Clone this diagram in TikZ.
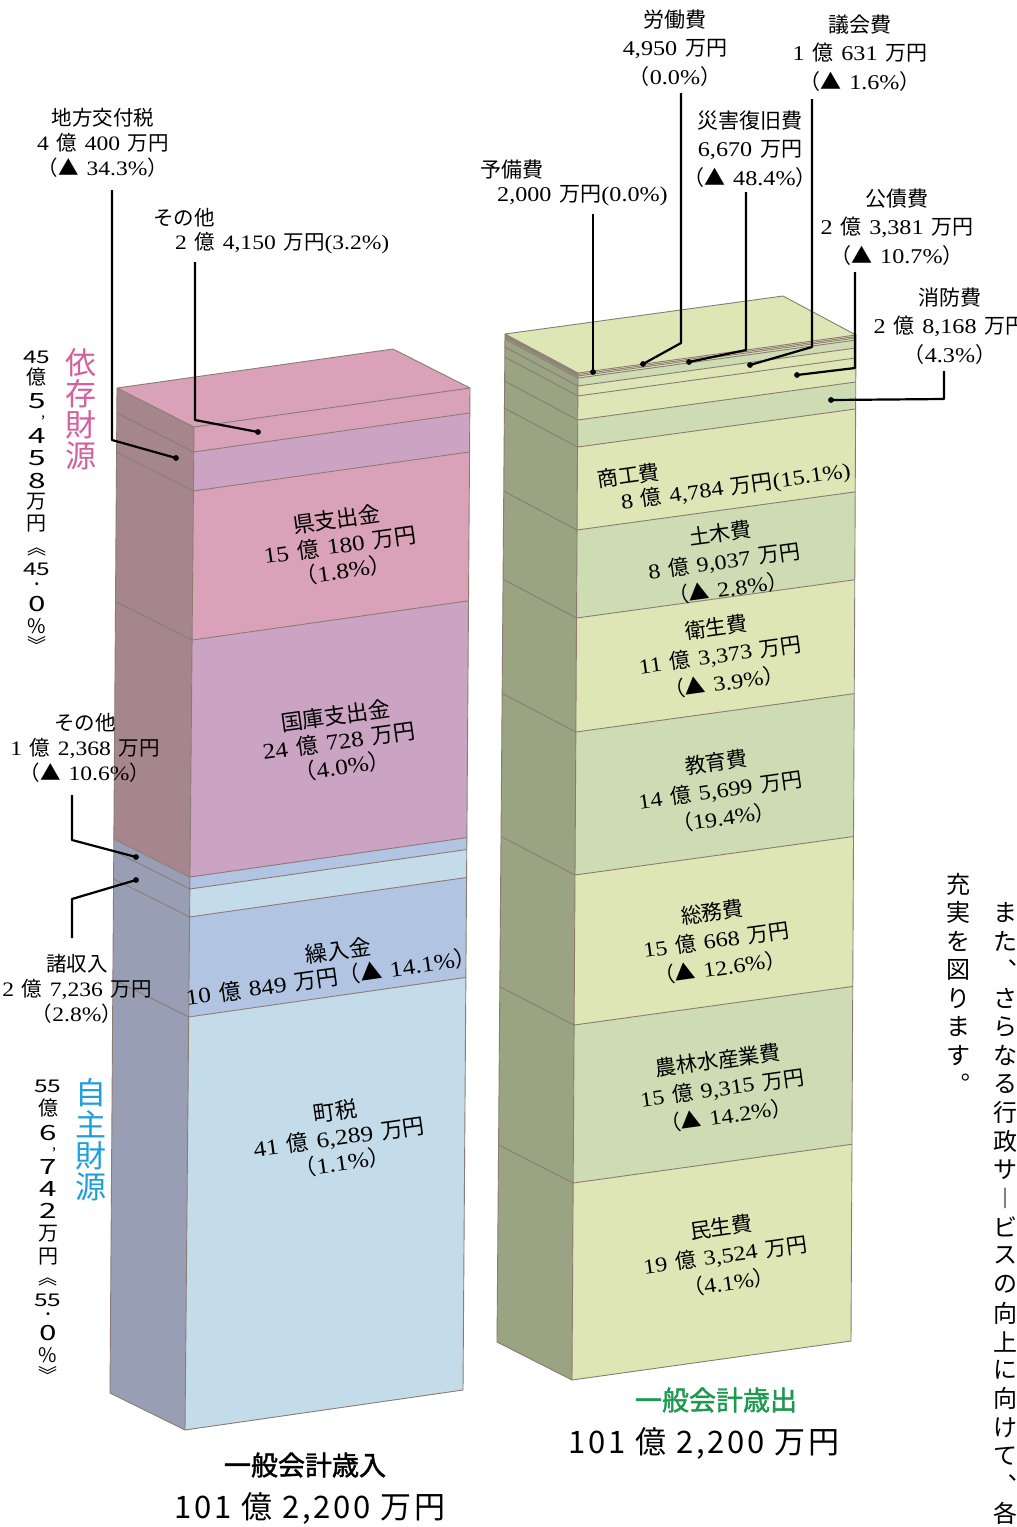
\documentclass[tikz,border=0pt]{standalone}
\usepackage{fontspec}
\setmainfont[FakeStretch=1.15,WordSpace=1.3]{Liberation Serif}
\newfontfamily\jpfont{Noto Sans CJK JP}
\newfontfamily\jpttlfont[FakeBold=1.6]{Noto Sans CJK JP}
\newfontfamily\jpwide[LetterSpace=9]{Noto Sans CJK JP}
\usetikzlibrary{calc}
% automatic switch: CJK characters in Noto Sans CJK JP, Latin in Liberation Serif
\chardef\cjkcls=37
\newcount\cjkcnt
\def\setclassrange#1#2#3{\cjkcnt=#1\relax\loop\XeTeXcharclass\cjkcnt=#3\relax\advance\cjkcnt by 1\relax\ifnum\cjkcnt<#2\relax\repeat}
\setclassrange{"21}{"7F}{0}
\setclassrange{"25A0}{"2600}{\cjkcls}
\setclassrange{"3000}{"A000}{\cjkcls}
\setclassrange{"FE10}{"FE50}{\cjkcls}
\setclassrange{"FF00}{"FFF0}{\cjkcls}
\XeTeXinterchartoks 0 \cjkcls = {\jpfont}
\XeTeXinterchartoks 4095 \cjkcls = {\jpfont}
\XeTeXinterchartoks \cjkcls 0 = {\normalfont}
\XeTeXinterchartoks \cjkcls 4095 = {\normalfont}
\XeTeXinterchartokenstate=1
\newcommand\jpplain{\XeTeXinterchartokenstate=0\relax\jpfont}
\newcommand\jpwplain{\XeTeXinterchartokenstate=0\relax\jpwide}
\newcommand\jpttl{\XeTeXinterchartokenstate=0\relax\jpttlfont}

\definecolor{edgec}{HTML}{8C7B73}
\definecolor{pinkA}{HTML}{D9A2B9}
\definecolor{pinkB}{HTML}{CBA4C3}
\definecolor{sideP}{HTML}{A6868D}
\definecolor{blueA}{HTML}{B1C5E2}
\definecolor{blueB}{HTML}{C4DCE9}
\definecolor{sideB}{HTML}{989FB5}
\definecolor{yelA}{HTML}{DFE6B5}
\definecolor{grnA}{HTML}{CDDCB3}
\definecolor{sideG}{HTML}{9AA382}
\definecolor{pinkT}{HTML}{D4609C}
\definecolor{blueT}{HTML}{1E9FDB}
\definecolor{greenT}{HTML}{1E9A50}

\newcommand\colband[5]{%
  \fill[#4] ($(#1TL)!#2!(#1BL)$) -- ($(#1TR)!#2!(#1BR)$) -- ($(#1TR)!#3!(#1BR)$) -- ($(#1TL)!#3!(#1BL)$) -- cycle;
  \fill[#5] ($(#1KT)!#2!(#1KB)$) -- ($(#1TL)!#2!(#1BL)$) -- ($(#1TL)!#3!(#1BL)$) -- ($(#1KT)!#3!(#1KB)$) -- cycle;}
\newcommand\colline[2]{\draw[edge] ($(#1KT)!#2!(#1KB)$) -- ($(#1TL)!#2!(#1BL)$) -- ($(#1TR)!#2!(#1BR)$);}

\tikzset{
  edge/.style={draw=edgec, line width=0.9pt, line join=round},
  leader/.style={draw=black, line width=2.2pt, line join=round},
  labL/.style={align=center, inner sep=0pt, font=\fontsize{20.5}{25}\selectfont},
  labR/.style={align=center, inner sep=0pt, font=\fontsize{21}{28.5}\selectfont},
  inL/.style={align=center, inner sep=0pt, rotate=8, font=\fontsize{22}{25.5}\selectfont},
  inR/.style={align=center, inner sep=0pt, rotate=8, font=\fontsize{21}{28}\selectfont},
  vjp/.style={inner sep=0pt, font=\jpplain\fontsize{24}{24}\selectfont},
  vbig/.style={inner sep=0pt, font=\jpplain\fontsize{31}{31}\selectfont},
  vnum/.style={inner sep=0pt, font=\jpplain\fontsize{20}{20}\selectfont},
  vbrk/.style={inner sep=0pt, font=\jpplain\fontsize{19}{19}\selectfont},
  vpun/.style={inner sep=0pt, font=\jpplain\fontsize{14}{14}\selectfont},
  vdig/.style={inner sep=0pt, font=\jpplain\fontsize{21}{21}\selectfont, xscale=1.5},
  vtcy/.style={inner sep=0pt, font=\jpplain\fontsize{17.5}{17.5}\selectfont, xscale=1.4},
  ttl/.style={inner sep=0pt, font=\jpttl\fontsize{27}{27}\selectfont},
  amt/.style={inner sep=0pt, font=\jpwplain\fontsize{31}{31}\selectfont},
}

\begin{document}
\begin{tikzpicture}[x=1pt,y=-1pt]
\useasboundingbox (0,0) rectangle (1017,1527);
\fill[white] (0,0) rectangle (1017,1527);

% ---------------- left column (revenue) ----------------
\coordinate (LTL) at (194,427);
\coordinate (LTR) at (470,388);
\coordinate (LBL) at (185,1430);
\coordinate (LBR) at (463,1390);
\coordinate (LKT) at (117,388);
\coordinate (LKB) at (110,1393);
\coordinate (LKR) at ($(LTR)+(LKT)-(LTL)$);

\colband{L}{0}{0.0249}{pinkA}{sideP}
\colband{L}{0.0249}{0.0638}{pinkB}{sideP}
\colband{L}{0.0638}{0.2124}{pinkA}{sideP}
\colband{L}{0.2124}{0.4487}{pinkB}{sideP}
\colband{L}{0.4487}{0.4606}{blueA}{sideB}
\colband{L}{0.4606}{0.4885}{blueB}{sideB}
\colband{L}{0.4885}{0.5882}{blueA}{sideB}
\colband{L}{0.5882}{1}{blueB}{sideB}
\fill[pinkA] (LKT) -- (LKR) -- (LTR) -- (LTL) -- cycle;
\foreach \t in {0.0249,0.0638,0.2124,0.4487,0.4606,0.4885,0.5882} {\colline{L}{\t}}
\draw[edge] (LKT) -- (LKR) -- (LTR) -- (LTL) -- cycle;
\draw[edge] (LKT) -- (LKB) -- (LBL) -- (LBR) -- (LTR);
\draw[edge] (LTL) -- (LBL);

% ---------------- right column (expenditure) ----------------
\coordinate (RTL) at (578,373);
\coordinate (RTR) at (856,335);
\coordinate (RBL) at (572,1380);
\coordinate (RBR) at (851,1341);
\coordinate (RKT) at (505,334);
\coordinate (RKB) at (497,1342);
\coordinate (RKR) at ($(RTR)+(RKT)-(RTL)$);

\colband{R}{0}{0.005}{yelA}{sideG}
\colband{R}{0.005}{0.0129}{grnA}{sideG}
\colband{R}{0.0129}{0.0228}{yelA}{sideG}
\colband{R}{0.0228}{0.0467}{yelA}{sideG}
\colband{R}{0.0467}{0.0735}{grnA}{sideG}
\colband{R}{0.0735}{0.1559}{yelA}{sideG}
\colband{R}{0.1559}{0.2433}{grnA}{sideG}
\colband{R}{0.2433}{0.3565}{yelA}{sideG}
\colband{R}{0.3565}{0.4985}{grnA}{sideG}
\colband{R}{0.4985}{0.6475}{yelA}{sideG}
\colband{R}{0.6475}{0.8044}{grnA}{sideG}
\colband{R}{0.8044}{1}{yelA}{sideG}
\fill[yelA] (RKT) -- (RKR) -- (RTR) -- (RTL) -- cycle;
\foreach \t in {0.0015,0.003,0.005,0.0129,0.0228,0.0467,0.0735,0.1559,0.2433,0.3565,0.4985,0.6475,0.8044} {\colline{R}{\t}}
\draw[edge] (RKT) -- (RKR) -- (RTR) -- (RTL) -- cycle;
\draw[edge] (RKT) -- (RKB) -- (RBL) -- (RBR) -- (RTR);
\draw[edge] (RTL) -- (RBL);

% ---------------- labels inside left column ----------------
\node[inL] (kenshi) at (340,545) {県支出金\\15 億 180 万円\\（1.8\%）};
\node[inL] (kokko) at (339,741) {国庫支出金\\24 億 728 万円\\（4.0\%）};
\node[inL] (kuri1) at (338,951) {繰入金};
\node[inL] (kuri2) at (331,977) {10 億 849 万円（▲ 14.1\%）};
\node[inL] (chozei) at (339,1137) {町税\\41 億 6,289 万円\\（1.1\%）};

% ---------------- labels inside right column ----------------
\node[inR, anchor=west] (shoko1) at (597,480) {商工費};
\node[inR, anchor=west] (shoko2) at (621,503) {8 億 4,784 万円(15.1\%)};
\node[inR] (doboku) at (724,561) {土木費\\8 億 9,037 万円\\（▲ 2.8\%）};
\node[inR] (eisei) at (720,655) {衛生費\\11 億 3,373 万円\\（▲ 3.9\%）};
\node[inR] (kyoiku) at (720,790) {教育費\\14 億 5,699 万円\\（19.4\%）};
\node[inR] (somu) at (716,940) {総務費\\15 億 668 万円\\（▲ 12.6\%）};
\node[inR] (norin) at (722,1088) {農林水産業費\\15 億 9,315 万円\\（▲ 14.2\%）};
\node[inR] (minsei) at (725,1255) {民生費\\19 億 3,524 万円\\（4.1\%）};

% ---------------- outside labels, left ----------------
\node[labL] (chiho) at (103,143) {地方交付税\\4 億 400 万円\\（▲ 34.3\%）};
\node[labL, anchor=west] (sono1a) at (153,218) {その他};
\node[labL, anchor=west] (sono1b) at (175,243) {2 億 4,150 万円(3.2\%)};
\node[labL] (sono2) at (85,748) {その他\\1 億 2,368 万円\\（▲ 10.6\%）};
\node[labL] (shoshu) at (77,989) {諸収入\\2 億 7,236 万円\\（2.8\%）};

% ---------------- outside labels, right ----------------
\node[labR, anchor=west] (yobi1) at (480,170) {予備費};
\node[labR, anchor=west] (yobi2) at (497,196) {2,000 万円(0.0\%)};
\node[labR] (rodo) at (675,48) {労働費\\4,950 万円\\（0.0\%）};
\node[labR] (gikai) at (860,53) {議会費\\1 億 631 万円\\（▲ 1.6\%）};
\node[labR] (saigai) at (750,149) {災害復旧費\\6,670 万円\\（▲ 48.4\%）};
\node[labR] (kosai) at (897,227) {公債費\\2 億 3,381 万円\\（▲ 10.7\%）};
\node[labR] (shobo) at (950,326) {消防費\\2 億 8,168 万円\\（4.3\%）};

% ---------------- leaders ----------------
\coordinate (chiho-a) at (112,190); \coordinate (chiho-b) at (112,440); \coordinate (chiho-d) at (176,458);
\coordinate (sono1-a) at (195,262); \coordinate (sono1-b) at (195,420); \coordinate (sono1-d) at (258,432);
\coordinate (sono2-a) at (72,795); \coordinate (sono2-b) at (72,840); \coordinate (sono2-d) at (136,857);
\coordinate (shoshu-a) at (72,938); \coordinate (shoshu-b) at (72,899); \coordinate (shoshu-d) at (136,880);
\coordinate (yobi-a) at (593,214); \coordinate (yobi-d) at (593,372);
\coordinate (rodo-a) at (681,93); \coordinate (rodo-b) at (681,343); \coordinate (rodo-d) at (643,364);
\coordinate (saigai-a) at (746,192); \coordinate (saigai-b) at (746,350); \coordinate (saigai-d) at (689,362);
\coordinate (gikai-a) at (812,99); \coordinate (gikai-b) at (812,347); \coordinate (gikai-d) at (750,365);
\coordinate (kosai-a) at (855,272); \coordinate (kosai-b) at (855,368); \coordinate (kosai-d) at (797,375);
\coordinate (shobo-a) at (944,371); \coordinate (shobo-b) at (944,399); \coordinate (shobo-d) at (831,400);

\draw[leader] (chiho-a) -- (chiho-b) -- (chiho-d);
\draw[leader] (sono1-a) -- (sono1-b) -- (sono1-d);
\draw[leader] (sono2-a) -- (sono2-b) -- (sono2-d);
\draw[leader] (shoshu-a) -- (shoshu-b) -- (shoshu-d);
\draw[leader] (yobi-a) -- (yobi-d);
\draw[leader] (rodo-a) -- (rodo-b) -- (rodo-d);
\draw[leader] (saigai-a) -- (saigai-b) -- (saigai-d);
\draw[leader] (gikai-a) -- (gikai-b) -- (gikai-d);
\draw[leader] (kosai-a) -- (kosai-b) -- (kosai-d);
\draw[leader] (shobo-a) -- (shobo-b) -- (shobo-d);
\foreach \d in {chiho-d,sono1-d,sono2-d,shoshu-d,yobi-d,rodo-d,saigai-d,gikai-d,kosai-d,shobo-d}
  \fill (\d) circle (2.9pt);

% ---------------- vertical captions, left ----------------
\foreach \c [count=\i from 0] in {依,存,財,源}
  \node[vbig, text=pinkT] (izon\i) at (81,362.5+31*\i) {\c};
\foreach \c [count=\i from 0] in {自,主,財,源}
  \node[vbig, text=blueT] (jishu\i) at (91,1093+31.3*\i) {\c};

\node[vtcy] (na1) at (37,357) {45};
\node[vnum] (na2) at (37,377) {億};
\node[vdig] (na3) at (37,401) {5};
\node[vpun] (na4) at (43,418) {,};
\node[vdig] (na5) at (37,436) {4};
\node[vdig] (na6) at (37,458) {5};
\node[vdig] (na7) at (37,481) {8};
\node[vnum] (na8) at (37,502) {万};
\node[vnum] (na9) at (37,524) {円};
\node[vbrk] (na10) at (37,552) {︽};
\node[vtcy] (na11) at (37,569) {45};
\node[vpun] (na12) at (37,586) {・};
\node[vdig] (na13) at (37,604) {0};
\node[vnum] (na14) at (37,626) {\%};
\node[vbrk] (na15) at (37,644) {︾};

\node[vtcy] (nb1) at (48,1086) {55};
\node[vnum] (nb2) at (48,1108) {億};
\node[vdig] (nb3) at (48,1133) {6};
\node[vpun] (nb4) at (54,1150) {,};
\node[vdig] (nb5) at (48,1167) {7};
\node[vdig] (nb6) at (48,1189) {4};
\node[vdig] (nb7) at (48,1211) {2};
\node[vnum] (nb8) at (48,1234) {万};
\node[vnum] (nb9) at (48,1257) {円};
\node[vbrk] (nb10) at (48,1282) {︽};
\node[vtcy] (nb11) at (48,1300) {55};
\node[vpun] (nb12) at (48,1316) {・};
\node[vdig] (nb13) at (48,1333) {0};
\node[vnum] (nb14) at (48,1355) {\%};
\node[vbrk] (nb15) at (48,1374) {︾};

% ---------------- vertical body text, right ----------------
\foreach \c [count=\i from 0] in {ま,た,{},さ,ら,な,る,行,政,サ,︱,ビ,ス,の,向,上,に,向,け,て,{},各}
  \node[vjp] (va\i) at (1005,912.6+28.6*\i) {\c};
\node[vjp, anchor=base] (vacomma1) at (1005,979) {︑};
\node[vjp, anchor=base] (vacomma2) at (1005,1494) {︑};
\foreach \c [count=\i from 0] in {充,実,を,図,り,ま,す}
  \node[vjp] (vb\i) at (958,884+28.6*\i) {\c};
\node[vjp, anchor=base] (vbstop) at (958,1093) {︒};

% ---------------- titles ----------------
\node[ttl] (sainyu) at (305,1465) {一般会計歳入};
\node[amt] (sainyuamt) at (310,1508) {101 億 2,200 万円};
\node[ttl, text=greenT] (saishutsu) at (716,1400) {一般会計歳出};
\node[amt] (saishutsuamt) at (704,1443) {101 億 2,200 万円};
\end{tikzpicture}
\end{document}
